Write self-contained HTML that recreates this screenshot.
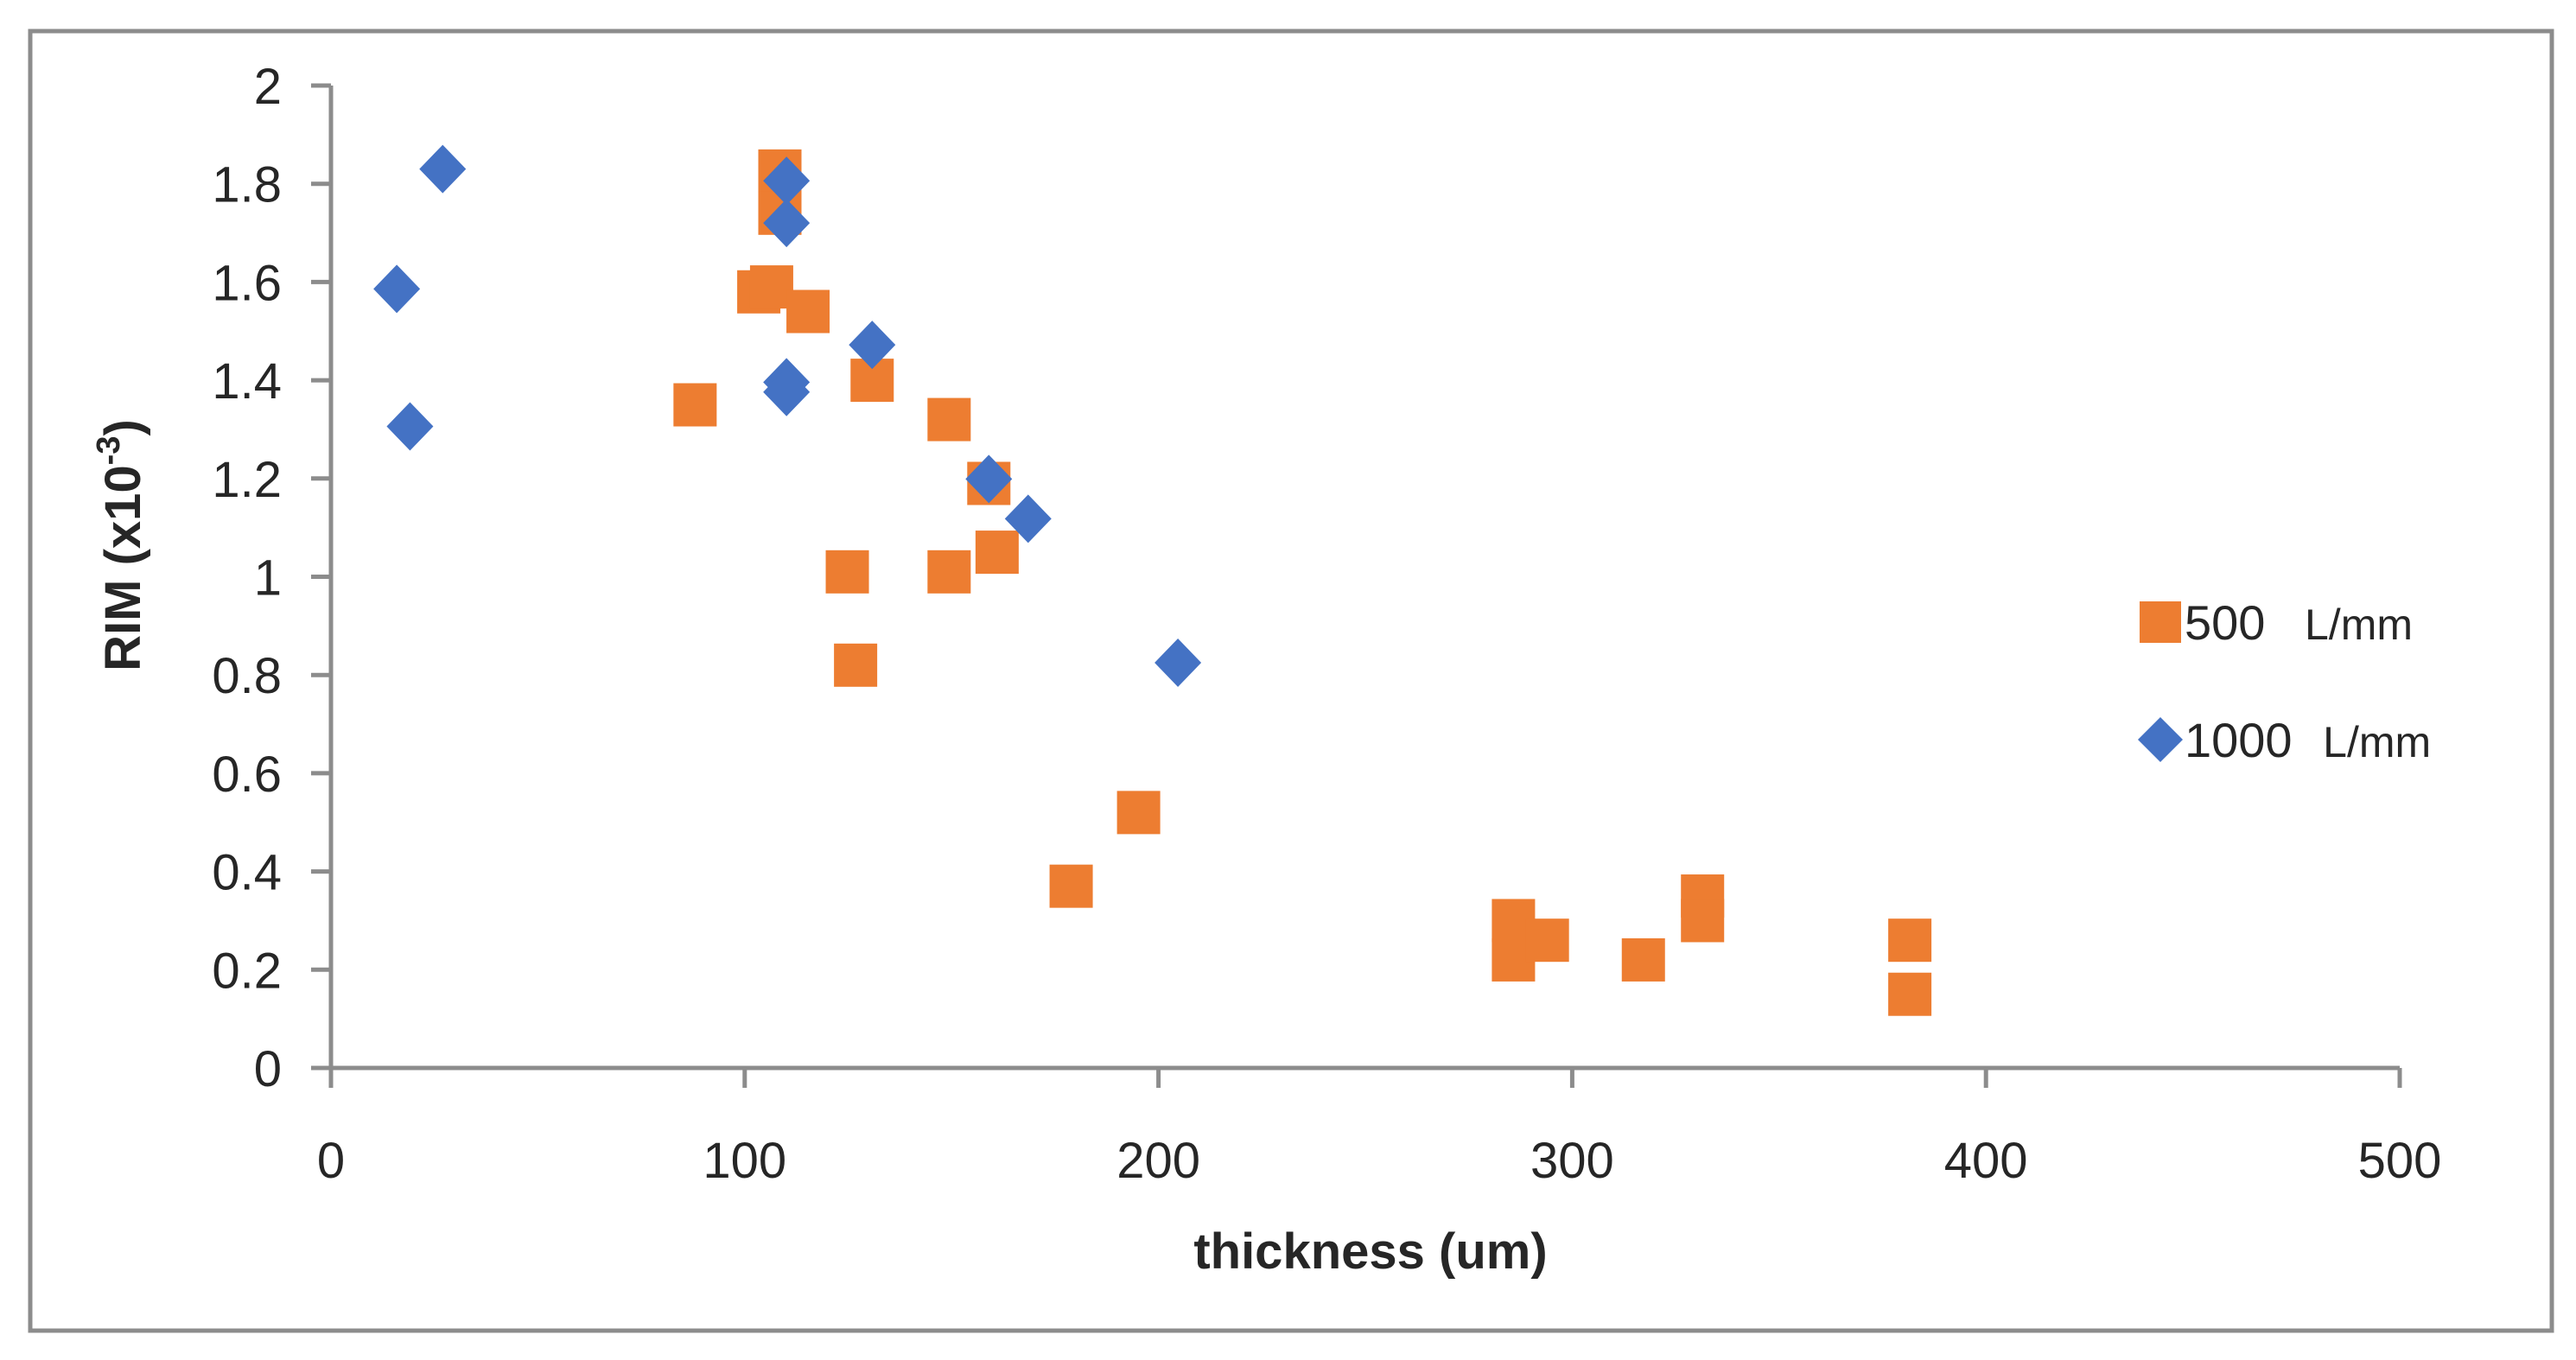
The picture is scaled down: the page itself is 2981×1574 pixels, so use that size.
<!DOCTYPE html>
<html><head><meta charset="utf-8"><style>
html,body{margin:0;padding:0;background:#fff;}
svg{display:block;font-family:"Liberation Sans",sans-serif;}
</style></head><body>
<svg id="chart" width="2981" height="1574" viewBox="0 0 2981 1574" xmlns="http://www.w3.org/2000/svg">
<rect x="35" y="36" width="2918" height="1504" fill="#fff" stroke="#8c8c8c" stroke-width="5"/>
<g id="axes"></g>
<g id="marks"></g>
<text x="1586" y="1468" text-anchor="middle" font-size="58" font-weight="bold" fill="#262626">thickness (um)</text>
<text transform="translate(162,631) rotate(-90)" text-anchor="middle" font-size="58" font-weight="bold" fill="#262626">RIM (x10<tspan font-size="38" dy="-24">-3</tspan><tspan dy="24">)</tspan></text>
<g>
<rect x="2476" y="696" width="48" height="48" fill="#ed7d31"/>
<text x="2528" y="740" font-size="56" fill="#262626">500 <tspan dx="30" font-size="50">L/mm</tspan></text>
<polygon points="2500,830 2526,856 2500,882 2474,856" fill="#4472c4"/>
<text x="2528" y="876" font-size="56" fill="#262626">1000 <tspan dx="20" font-size="50">L/mm</tspan></text>
</g>
</svg>
<script>
const xTicks=[0,100,200,300,400,500];
const yTicks=[0,0.2,0.4,0.6,0.8,1,1.2,1.4,1.6,1.8,2];
const yTickLabels=["0","0.2","0.4","0.6","0.8","1","1.2","1.4","1.6","1.8","2"];
const s500x=[88,108.5,108.5,103.4,106.5,115.3,130.8,149.4,159,124.8,149.4,161,126.8,195.2,178.9,285.8,285.8,294,317.2,331.5,331.5,381.6,381.6];
const s500y=[1.35,1.826,1.74,1.58,1.59,1.54,1.40,1.32,1.19,1.01,1.01,1.05,0.82,0.52,0.37,0.30,0.22,0.26,0.22,0.35,0.30,0.26,0.15];
const s1000x=[27,15.9,19.1,110.1,110.1,110.1,110.1,130.8,159,168.5,204.7];
const s1000y=[1.83,1.586,1.306,1.806,1.72,1.396,1.376,1.472,1.199,1.118,0.825];
const X0=383,X1=2777,Y0=1236,Y1=99;
const xs=v=>X0+(v-0)/(500-0)*(X1-X0);
const ys=v=>Y0-(v-0)/(2-0)*(Y0-Y1);
const NS="http://www.w3.org/2000/svg";
const axes=document.getElementById('axes'),marks=document.getElementById('marks');
function mk(tag,attrs,parent){const e=document.createElementNS(NS,tag);for(const k in attrs)e.setAttribute(k,attrs[k]);parent.appendChild(e);return e;}
let l=mk('line',{x1:X0,y1:ys(2),x2:X0,y2:Y0+23,stroke:'#8c8c8c','stroke-width':5},axes);


l=mk('line',{x1:X0-23,y1:Y0,x2:xs(500),y2:Y0,stroke:'#8c8c8c','stroke-width':5},axes);


yTicks.forEach((v,i)=>{
  const t=mk('line',{x1:X0-23,y1:ys(v),x2:X0,y2:ys(v),stroke:'#8c8c8c','stroke-width':5},axes);
  
  
  const tx=mk('text',{x:326,y:ys(v)+21,'text-anchor':'end','font-size':58,fill:'#262626'},axes);
  tx.textContent=yTickLabels[i];
  
  
});
xTicks.forEach(v=>{
  const t=mk('line',{x1:xs(v),y1:Y0,x2:xs(v),y2:Y0+23,stroke:'#8c8c8c','stroke-width':5},axes);
  
  
  const tx=mk('text',{x:xs(v),y:1363,'text-anchor':'middle','font-size':58,fill:'#262626'},axes);
  tx.textContent=String(v);
  
  
});
s500x.forEach((v,i)=>{
  const r=mk('rect',{x:xs(v)-25,y:ys(s500y[i])-25,width:50,height:50,fill:'#ed7d31'},marks);
  
  
});
s1000x.forEach((v,i)=>{
  const cx=xs(v),cy=ys(s1000y[i]);
  const p=mk('polygon',{points:`${cx},${cy-28} ${cx+27},${cy} ${cx},${cy+28} ${cx-27},${cy}`,fill:'#4472c4'},marks);
  
  
});
</script>
</body></html>
